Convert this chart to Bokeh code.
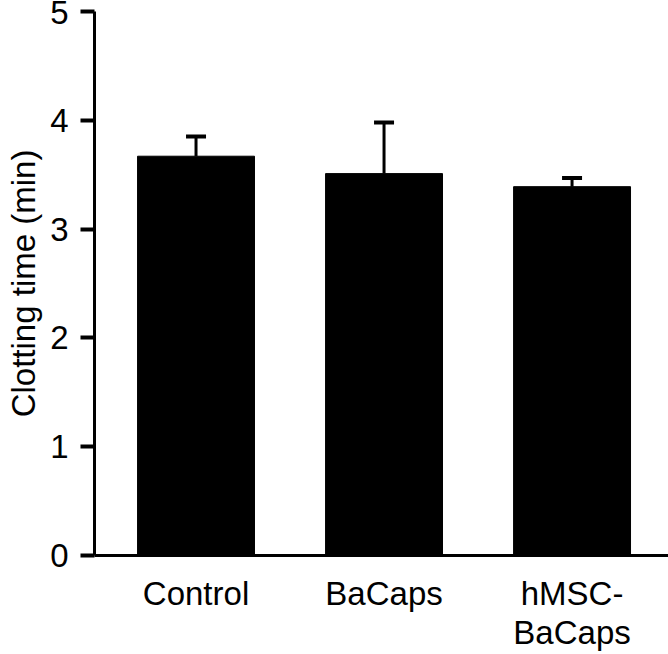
from bokeh.plotting import figure
from bokeh.models import ColumnDataSource, FixedTicker, Whisker, TeeHead, Range1d
from bokeh.embed import file_html
from bokeh.resources import INLINE

categories = ["Control", "BaCaps", "hMSC-\nBaCaps"]
means = [3.67, 3.51, 3.39]
errors = [0.18, 0.47, 0.08]
y_ticks = [0, 1, 2, 3, 4, 5]

xs = list(range(len(categories)))
upper = [m + e for m, e in zip(means, errors)]
src = ColumnDataSource(dict(x=xs, top=means, upper=upper))

FONT = "Liberation Sans"
FS = "33px"

p = figure(frame_width=574, frame_height=544, output_backend="svg",
           toolbar_location=None, x_range=Range1d(-0.54, 2.513),
           y_range=Range1d(0, 5), min_border_left=94, min_border_right=0,
           min_border_top=11, min_border_bottom=99)
p.outline_line_color = None
p.xgrid.visible = False
p.ygrid.visible = False
p.background_fill_color = "white"
p.border_fill_color = "white"

p.vbar(x="x", top="top", bottom=0, width=0.622, source=src,
       fill_color="black", line_color="black", line_width=1)

w = Whisker(base="x", upper="upper", lower="top", source=src,
            line_color="black", line_width=3,
            upper_head=TeeHead(size=20, line_width=4, line_color="black"),
            lower_head=None)
p.add_layout(w)

# y axis
ya = p.yaxis[0]
ya.ticker = FixedTicker(ticks=y_ticks)
ya.axis_line_width = 3
ya.axis_line_color = "black"
ya.major_tick_line_width = 4
ya.major_tick_line_color = "black"
ya.major_tick_out = 14
ya.major_tick_in = 0
ya.minor_tick_line_color = None
ya.major_label_standoff = 12
ya.major_label_text_font = FONT
ya.major_label_text_font_size = FS
ya.major_label_text_color = "black"
ya.axis_label = "Clotting time (min)"
ya.axis_label_standoff = 5
ya.axis_label_text_font = FONT
ya.axis_label_text_font_size = FS
ya.axis_label_text_font_style = "normal"
ya.axis_label_text_color = "black"

# x axis
xa = p.xaxis[0]
xa.ticker = FixedTicker(ticks=xs)
xa.major_label_overrides = {i: c for i, c in zip(xs, categories)}
xa.axis_line_width = 3
xa.axis_line_color = "black"
xa.major_tick_line_color = None
xa.minor_tick_line_color = None
xa.major_tick_out = 0
xa.major_tick_in = 0
xa.major_label_standoff = 19
xa.major_label_text_font = FONT
xa.major_label_text_font_size = FS
xa.major_label_text_line_height = 1.07
xa.major_label_text_color = "black"

open("out.html", "w").write(file_html(p, INLINE))
